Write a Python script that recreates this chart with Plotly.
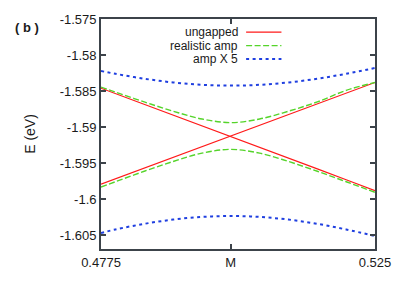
import plotly.graph_objects as go

k_vals = [0.4775, 0.48, 0.485, 0.49, 0.495, 0.5, 0.505, 0.51, 0.515, 0.52, 0.525]

ungapped_down = [-1.5846, -1.58534, -1.58682, -1.5883, -1.58977, -1.59125,
                 -1.59276, -1.59427, -1.59578, -1.59729, -1.5988]
ungapped_up = [-1.5979, -1.59716, -1.59568, -1.5942, -1.59273, -1.59125,
               -1.58976, -1.58827, -1.58678, -1.58529, -1.5838]

realistic_upper = [-1.58445, -1.58514, -1.5865, -1.58779, -1.58887, -1.58937,
                   -1.58887, -1.58779, -1.5865, -1.5849, -1.5838]
realistic_lower = [-1.5983, -1.59757, -1.59612, -1.59476, -1.59361, -1.59308,
                   -1.59361, -1.59476, -1.59612, -1.59757, -1.59904]

amp5_upper = [-1.58221, -1.5826, -1.58328, -1.5838, -1.58413, -1.58424,
              -1.58413, -1.5838, -1.58328, -1.5826, -1.58179]
amp5_lower = [-1.60468, -1.60419, -1.60341, -1.60282, -1.60245, -1.60232,
              -1.60245, -1.60282, -1.60341, -1.60419, -1.60509]

y_ticks = [-1.575, -1.58, -1.585, -1.59, -1.595, -1.6, -1.605]
y_ticktext = ["-1.575", "-1.58", "-1.585", "-1.59", "-1.595", "-1.6", "-1.605"]
x_ticks = [0.4775, 0.5, 0.525]
x_ticktext = ["0.4775", "M", "0.525"]

RED = "#ff1a1a"
GREEN = "#55d42a"
BLUE = "#1f3fe0"

fig = go.Figure()
fig.add_trace(go.Scatter(x=k_vals, y=ungapped_down, mode="lines",
                         line=dict(color=RED, width=1.2), showlegend=False))
fig.add_trace(go.Scatter(x=k_vals, y=ungapped_up, mode="lines",
                         line=dict(color=RED, width=1.2), showlegend=False))
for ys in (realistic_upper, realistic_lower):
    fig.add_trace(go.Scatter(x=k_vals, y=ys, mode="lines", line_shape="spline",
                             line=dict(color=GREEN, width=1.4, dash="6px,2.5px"),
                             showlegend=False))
for ys in (amp5_upper, amp5_lower):
    fig.add_trace(go.Scatter(x=k_vals, y=ys, mode="lines", line_shape="spline",
                             line=dict(color=BLUE, width=2, dash="3px,3.5px"),
                             showlegend=False))

FONT = "Liberation Sans, Arial, sans-serif"
frame = "#3c434a"
TXT = "#1a1a1a"

fig.update_layout(
    width=403, height=282,
    margin=dict(l=101, r=15, t=16, b=28),
    paper_bgcolor="white", plot_bgcolor="white",
    font=dict(family=FONT, size=13, color=TXT),
    showlegend=False,
    xaxis=dict(range=[0.4775, 0.525], tickvals=x_ticks, ticktext=x_ticktext,
               ticks="inside", ticklen=5, tickcolor=frame, tickwidth=1.5,
               showline=True, linecolor=frame, linewidth=1.8, mirror="ticks",
               showgrid=False, zeroline=False, tickfont=dict(size=13),
               ticklabeloverflow="allow"),
    yaxis=dict(range=[-1.6069, -1.575], tickvals=y_ticks, ticktext=y_ticktext,
               ticks="inside", ticklen=5, tickcolor=frame, tickwidth=1.5,
               showline=True, linecolor=frame, linewidth=1.8, mirror="ticks",
               showgrid=False, zeroline=False, tickfont=dict(size=13),
               ticklabeloverflow="allow",
               title=dict(text="E (eV)", font=dict(size=14), standoff=21)),
)

# gnuplot-style legend: text right-aligned, sample to its right
legend_items = [("ungapped", RED, 1.2, "solid"),
                ("realistic amp", GREEN, 1.4, "6px,2.5px"),
                ("amp X 5", BLUE, 2, "3px,3.5px")]
legend_y = [29.5, 43.5, 57.5]
for (label, col, w, dash), py in zip(legend_items, legend_y):
    yp = 1 - (py - 16) / (254 - 16)
    x_txt = (246 - 101) / (388 - 101)
    x0 = (253 - 101) / (388 - 101)
    x1 = (290 - 101) / (388 - 101)
    fig.add_annotation(x=x_txt, y=yp, xref="paper", yref="paper", text=label,
                       showarrow=False, xanchor="right", yanchor="middle",
                       borderpad=0, font=dict(size=12, color=TXT))
    fig.add_shape(type="line", xref="paper", yref="paper", x0=x0, x1=x1,
                  y0=yp, y1=yp, line=dict(color=col, width=w, dash=dash))

fig.add_annotation(x=(24 - 101) / 287, y=1 - (25 - 16) / 238, xref="paper",
                   yref="paper", text="<b>( b )</b>", showarrow=False,
                   xanchor="center", yanchor="middle", font=dict(size=13, color=TXT))

fig.write_html("out.html", config={"displayModeBar": False},
               post_script="document.body.style.margin='0';")
